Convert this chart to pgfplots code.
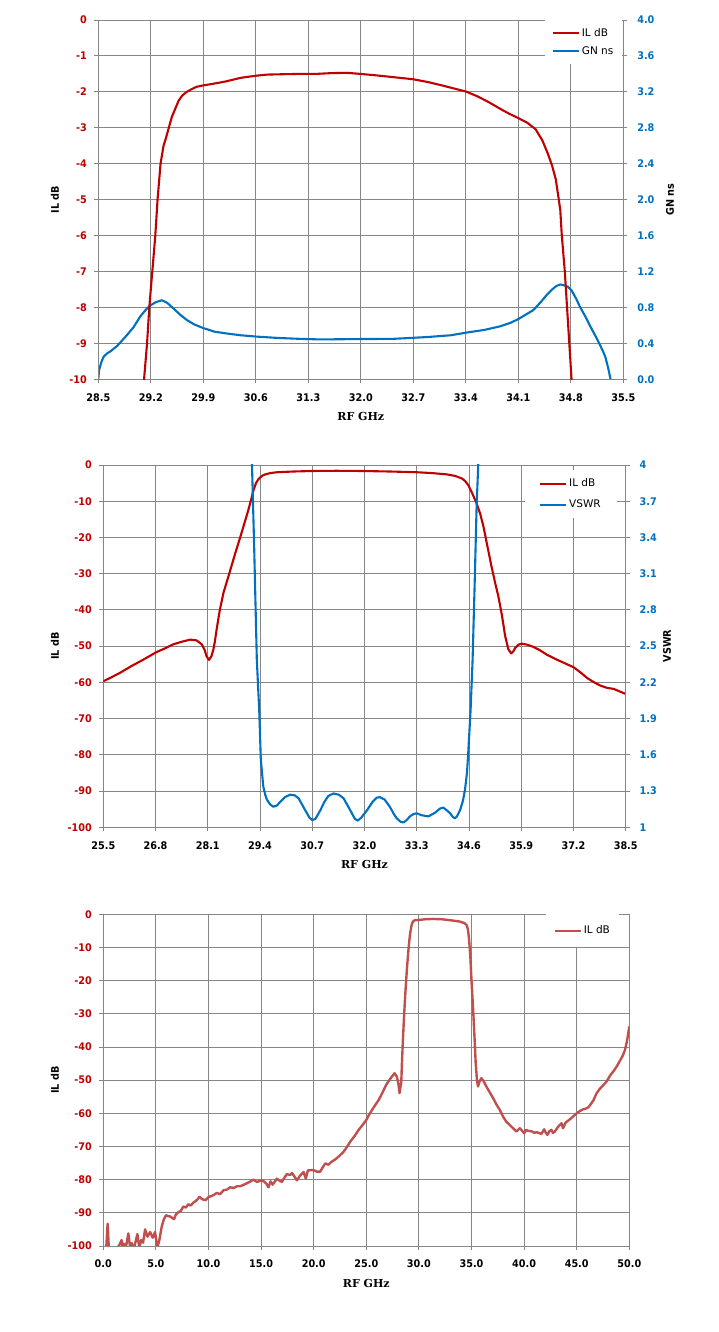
\documentclass[border=0pt]{standalone}
\usepackage{fontspec}
\setmainfont{DejaVu Sans}
\newfontfamily\tickfont{DejaVu Sans}[FakeStretch=0.92]
\newfontfamily\serifb{DejaVu Serif}
\usepackage{pgfplots}
\pgfplotsset{compat=1.18}
\definecolor{ilred}{RGB}{192,0,0}
\definecolor{gnblue}{RGB}{0,112,192}
\definecolor{ilthree}{RGB}{192,80,77}
\definecolor{gridgray}{RGB}{134,134,134}
\pgfplotsset{
  excel/.style={
    scale only axis,
    axis line style={gridgray, line width=0.9pt},
    tick style={gridgray, line width=0.9pt},
    major tick length=4pt,
    tick align=outside,
    grid style={gridgray, line width=0.9pt},
    ticklabel style={font=\tickfont\bfseries\fontsize{10.5}{12}\selectfont},
    xticklabel shift=6.5pt, yticklabel shift=4pt,
    xlabel style={font=\serifb\bfseries\fontsize{11}{13}\selectfont, anchor=center},
    ylabel style={font=\tickfont\bfseries\fontsize{10.5}{12}\selectfont, anchor=center},
    legend style={draw=none, fill=white, font=\fontsize{10.5}{12}\selectfont, cells={anchor=west}},
    legend image code/.code={\draw[##1] (0pt,0pt) -- (26pt,0pt);},
    every axis plot/.append style={line join=round},
  }
}
\begin{document}
\begin{tikzpicture}
\useasboundingbox (0pt,0pt) rectangle (718pt,1332pt);
%%%%%%%%%%%%%%%% PLOT 1
\begin{axis}[excel, at={(98.3pt,952.7pt)}, anchor=south west,
  width=525pt, height=359.3pt,
  xmin=28.5, xmax=35.5, ymin=0, ymax=4,
  grid=major, xtick pos=bottom, ytick pos=right,
  yticklabel shift=6.5pt,
  xtick={28.5,29.2,29.9,30.6,31.3,32.0,32.7,33.4,34.1,34.8,35.5},
  xticklabels={28.5,29.2,29.9,30.6,31.3,32.0,32.7,33.4,34.1,34.8,35.5},
  ytick={0,0.4,0.8,1.2,1.6,2.0,2.4,2.8,3.2,3.6,4.0},
  yticklabels={0.0,0.4,0.8,1.2,1.6,2.0,2.4,2.8,3.2,3.6,4.0},
  yticklabel style={color=gnblue},
  xlabel={RF GHz}, xlabel style={at={(axis description cs:0.5,-0.104)}},
  ylabel={GN ns}, ylabel style={at={(axis description cs:1.089,0.5)}},
]
\addplot[gnblue, line width=2.1pt] table {
28.50 0.00
28.51 0.10
28.54 0.19
28.57 0.25
28.62 0.29
28.66 0.31
28.75 0.37
28.88 0.49
28.97 0.58
29.06 0.70
29.13 0.77
29.19 0.82
29.27 0.86
29.35 0.88
29.42 0.85
29.50 0.79
29.59 0.72
29.68 0.66
29.78 0.61
29.90 0.57
30.05 0.53
30.21 0.51
30.40 0.49
30.61 0.475
30.90 0.46
31.19 0.45
31.40 0.445
31.63 0.445
32.00 0.448
32.43 0.45
32.88 0.47
33.20 0.49
33.41 0.52
33.65 0.55
33.86 0.59
34.00 0.63
34.10 0.67
34.20 0.72
34.30 0.77
34.40 0.86
34.48 0.94
34.55 1.00
34.61 1.04
34.66 1.055
34.70 1.05
34.76 1.03
34.81 0.99
34.87 0.90
34.92 0.81
35.00 0.69
35.06 0.59
35.13 0.48
35.19 0.38
35.23 0.31
35.26 0.25
35.30 0.12
35.33 0.00
};
\end{axis}
\begin{axis}[excel, at={(98.3pt,952.7pt)}, anchor=south west,
  width=525pt, height=359.3pt,
  xmin=28.5, xmax=35.5, ymin=-10, ymax=0,
  axis x line=none, axis y line*=left,
  ytick={-10,-9,...,0},
  yticklabels={-10,-9,-8,-7,-6,-5,-4,-3,-2,-1,0},
  yticklabel style={color=ilred},
  ylabel={IL dB}, ylabel style={at={(axis description cs:-0.0825,0.5)}},
  legend style={at={(axis description cs:0.851,1)}, anchor=north west,
    inner xsep=6.5pt, inner ysep=6pt, row sep=5pt},
]
\addplot[ilred, line width=2.1pt] table {
29.10 -10.4
29.11 -10.0
29.15 -9.0
29.18 -8.0
29.22 -7.0
29.26 -6.0
29.29 -5.0
29.33 -4.0
29.37 -3.5
29.40 -3.3
29.44 -3.0
29.48 -2.7
29.52 -2.5
29.57 -2.25
29.62 -2.1
29.68 -2.0
29.75 -1.92
29.81 -1.86
29.90 -1.82
29.99 -1.79
30.10 -1.75
30.20 -1.71
30.30 -1.66
30.40 -1.61
30.50 -1.58
30.61 -1.55
30.75 -1.52
30.96 -1.51
31.20 -1.50
31.41 -1.50
31.60 -1.48
31.81 -1.47
31.99 -1.50
32.20 -1.54
32.43 -1.59
32.70 -1.65
32.90 -1.73
33.10 -1.83
33.25 -1.91
33.40 -1.99
33.55 -2.12
33.70 -2.28
33.84 -2.45
33.97 -2.60
34.10 -2.73
34.22 -2.86
34.33 -3.04
34.42 -3.35
34.49 -3.70
34.55 -4.05
34.60 -4.44
34.64 -5.00
34.66 -5.30
34.68 -6.00
34.72 -7.00
34.75 -8.00
34.78 -9.00
34.81 -10.00
34.82 -10.40
};
\addlegendentry{IL dB}
\addlegendimage{gnblue, line width=2.1pt}
\addlegendentry{GN ns}
\end{axis}
%%%%%%%%%%%%%%%% PLOT 2
\begin{axis}[excel, at={(103.3pt,504.7pt)}, anchor=south west,
  width=522.4pt, height=362.3pt,
  xmin=25.5, xmax=38.5, ymin=-100, ymax=0,
  grid=major, xtick pos=bottom, ytick pos=left,
  xtick={25.5,26.8,28.1,29.4,30.7,32.0,33.3,34.6,35.9,37.2,38.5},
  xticklabels={25.5,26.8,28.1,29.4,30.7,32.0,33.3,34.6,35.9,37.2,38.5},
  ytick={-100,-90,...,0},
  yticklabels={-100,-90,-80,-70,-60,-50,-40,-30,-20,-10,0},
  yticklabel style={color=ilred},
  xlabel={RF GHz}, xlabel style={at={(axis description cs:0.5,-0.104)}},
  ylabel={IL dB}, ylabel style={at={(axis description cs:-0.0925,0.5)}},
]
\addplot[ilred, line width=2.1pt] table {
25.50 -59.7
25.70 -58.6
25.91 -57.4
26.20 -55.5
26.50 -53.7
26.83 -51.6
27.00 -50.8
27.24 -49.5
27.45 -48.8
27.66 -48.2
27.82 -48.4
27.95 -49.5
28.02 -51.0
28.07 -52.8
28.13 -53.8
28.19 -52.8
28.24 -50.9
28.28 -48.5
28.32 -45.4
28.40 -40.0
28.49 -35.3
28.65 -29.4
28.78 -24.5
28.90 -20.2
29.00 -16.5
29.11 -12.4
29.18 -9.5
29.24 -6.9
29.30 -5.0
29.36 -3.9
29.45 -3.0
29.53 -2.6
29.65 -2.25
29.82 -2.0
30.23 -1.8
30.73 -1.65
31.30 -1.6
31.89 -1.65
32.39 -1.75
32.64 -1.8
33.30 -2.0
33.70 -2.25
34.05 -2.6
34.25 -3.0
34.42 -3.7
34.50 -4.4
34.58 -5.5
34.68 -7.8
34.79 -10.6
34.88 -13.5
34.96 -17.0
35.06 -22.5
35.16 -28.0
35.25 -32.5
35.33 -36.2
35.42 -41.5
35.50 -47.2
35.58 -50.9
35.65 -52.0
35.70 -51.5
35.75 -50.5
35.83 -49.6
35.91 -49.3
36.05 -49.6
36.20 -50.2
36.36 -51.1
36.53 -52.3
36.78 -53.7
37.00 -54.8
37.20 -55.8
37.37 -57.2
37.54 -58.8
37.70 -59.9
37.87 -60.9
38.03 -61.5
38.20 -61.8
38.35 -62.5
38.50 -63.2
};
\end{axis}
\begin{axis}[excel, at={(103.3pt,504.7pt)}, anchor=south west,
  width=522.4pt, height=362.3pt,
  xmin=25.5, xmax=38.5, ymin=1, ymax=4,
  axis x line=none, axis y line*=right,
  yticklabel shift=6.5pt,
  ytick={1,1.3,1.6,1.9,2.2,2.5,2.8,3.1,3.4,3.7,4},
  yticklabels={1,1.3,1.6,1.9,2.2,2.5,2.8,3.1,3.4,3.7,4},
  yticklabel style={color=gnblue},
  ylabel={VSWR}, ylabel style={at={(axis description cs:1.079,0.5)}},
  legend style={at={(axis description cs:0.807,1)}, anchor=north west, yshift=-5pt,
    inner xsep=14pt, inner ysep=6.7pt, row sep=7.6pt},
]
\addlegendimage{ilred, line width=2.1pt}
\addlegendentry{IL dB}
\addplot[gnblue, line width=2.1pt] table {
29.19 4.10
29.20 4.00
29.25 3.38
29.32 2.39
29.38 1.97
29.42 1.56
29.48 1.34
29.53 1.27
29.57 1.23
29.65 1.19
29.73 1.17
29.82 1.18
29.90 1.21
30.02 1.25
30.15 1.27
30.26 1.265
30.36 1.24
30.46 1.18
30.56 1.12
30.63 1.08
30.70 1.06
30.78 1.07
30.90 1.14
31.00 1.21
31.10 1.26
31.23 1.28
31.36 1.27
31.48 1.24
31.58 1.18
31.68 1.12
31.76 1.07
31.83 1.055
31.92 1.08
32.06 1.14
32.20 1.21
32.30 1.245
32.38 1.25
32.50 1.23
32.63 1.17
32.73 1.11
32.80 1.075
32.90 1.045
32.97 1.04
33.05 1.06
33.13 1.09
33.22 1.11
33.30 1.116
33.42 1.10
33.59 1.09
33.75 1.12
33.88 1.155
33.96 1.163
34.05 1.14
34.13 1.116
34.20 1.085
34.25 1.075
34.30 1.09
34.38 1.144
34.45 1.22
34.50 1.31
34.55 1.45
34.58 1.61
34.64 1.97
34.69 2.39
34.74 3.00
34.79 3.66
34.83 4.00
34.84 4.10
};
\addlegendentry{VSWR}
\end{axis}
%%%%%%%%%%%%%%%% PLOT 3
\begin{axis}[excel, at={(103.3pt,86pt)}, anchor=south west,
  width=526pt, height=331.7pt,
  xmin=0, xmax=50, ymin=-100, ymax=0,
  grid=major, xtick pos=bottom, ytick pos=left,
  xtick={0,5,...,50},
  xticklabels={0.0,5.0,10.0,15.0,20.0,25.0,30.0,35.0,40.0,45.0,50.0},
  ytick={-100,-90,...,0},
  yticklabels={-100,-90,-80,-70,-60,-50,-40,-30,-20,-10,0},
  yticklabel style={color=ilred},
  xlabel={RF GHz}, xlabel style={at={(axis description cs:0.5,-0.112)}},
  ylabel={IL dB}, ylabel style={at={(axis description cs:-0.092,0.5)}},
  legend style={at={(axis description cs:0.842,1)}, anchor=north west,
    inner xsep=7pt, inner ysep=9.5pt},
]
\addplot[ilthree, line width=2.4pt] table {
0.20 -101
0.30 -99.5
0.41 -93.3
0.50 -99
0.60 -103
1.00 -104
1.33 -100.5
1.55 -99.6
1.74 -98.2
1.84 -100.5
1.95 -99.3
2.10 -101
2.20 -99.5
2.38 -96.2
2.55 -100.5
2.70 -99.1
2.90 -101
3.05 -99
3.24 -96.4
3.42 -100.5
3.60 -98.2
3.78 -99
3.97 -95
4.20 -97.2
4.45 -95.8
4.70 -97.5
4.92 -95.8
5.14 -100.6
5.33 -98.2
5.55 -94.2
5.75 -92
5.96 -90.7
6.15 -91
6.35 -91.1
6.73 -91.9
6.90 -90.5
7.14 -89.8
7.35 -89.5
7.61 -88.1
7.85 -88.4
8.09 -87.4
8.30 -87.8
8.57 -86.9
8.85 -86.3
9.14 -85.2
9.40 -85.9
9.70 -86.2
10.03 -85.2
10.40 -84.8
10.79 -84.0
11.10 -84.4
11.42 -83.2
11.75 -83.0
12.06 -82.3
12.40 -82.5
12.70 -82.0
13.00 -82.0
13.30 -81.6
13.64 -81.1
13.95 -80.6
14.28 -80.0
14.60 -80.7
15.04 -80.2
15.30 -80.6
15.50 -81.2
15.70 -82.3
15.90 -80.5
16.10 -81.5
16.50 -79.7
16.75 -80.3
16.97 -80.7
17.20 -79.5
17.45 -78.3
17.75 -78.6
17.95 -78.0
18.20 -79.2
18.40 -80.2
18.70 -78.8
19.04 -77.7
19.25 -79.7
19.45 -77.2
19.99 -77.1
20.30 -77.6
20.62 -77.6
20.85 -76.3
21.10 -75.1
21.40 -75.5
21.70 -74.6
22.05 -73.9
22.45 -72.8
22.84 -71.6
23.15 -70.2
23.48 -68.5
23.90 -66.8
24.27 -65.0
24.65 -63.5
25.00 -62.0
25.25 -60.5
25.54 -59.0
25.85 -57.5
26.17 -56.0
26.50 -54.0
26.89 -51.4
27.30 -49.5
27.68 -47.9
27.90 -48.9
28.05 -51
28.16 -53.9
28.25 -52
28.32 -50.9
28.40 -44
28.48 -37.9
28.60 -30
28.73 -22.8
28.85 -17
28.95 -12.8
29.07 -8.5
29.17 -5.7
29.30 -3.3
29.43 -2.2
29.60 -1.8
30.00 -1.7
30.60 -1.5
31.33 -1.4
32.20 -1.5
33.24 -1.9
33.90 -2.2
34.35 -2.7
34.55 -3.3
34.67 -4.7
34.78 -8
34.89 -12.8
35.00 -20
35.14 -27.8
35.27 -36
35.40 -44.9
35.52 -50
35.62 -51.9
35.75 -50.5
35.94 -49.4
36.15 -50.3
36.41 -51.9
36.70 -53.5
37.05 -55.4
37.40 -57.5
37.68 -58.9
38.00 -61.0
38.30 -62.5
38.63 -63.5
38.95 -64.5
39.27 -65.5
39.59 -64.5
39.80 -65.2
40.00 -66.0
40.20 -65.0
40.38 -65.3
40.70 -65.4
41.00 -65.9
41.17 -65.7
41.40 -65.9
41.65 -66.2
41.90 -64.8
42.05 -65.8
42.22 -66.5
42.40 -65.4
42.60 -65.0
42.75 -65.9
42.92 -65.5
43.20 -64.2
43.40 -63.5
43.56 -63.0
43.70 -64.5
43.95 -62.8
44.19 -62.2
44.50 -61.4
44.75 -60.7
45.00 -60.0
45.30 -59.3
45.60 -58.8
45.85 -58.6
46.10 -58.2
46.35 -57.2
46.60 -56.0
46.90 -53.9
47.20 -52.6
47.50 -51.6
47.84 -50.4
48.20 -48.5
48.50 -47.3
48.80 -45.9
49.10 -44.2
49.35 -42.8
49.59 -40.9
49.80 -37.9
50.00 -33.8
};
\addlegendentry{IL dB}
\end{axis}
\end{tikzpicture}
\end{document}
